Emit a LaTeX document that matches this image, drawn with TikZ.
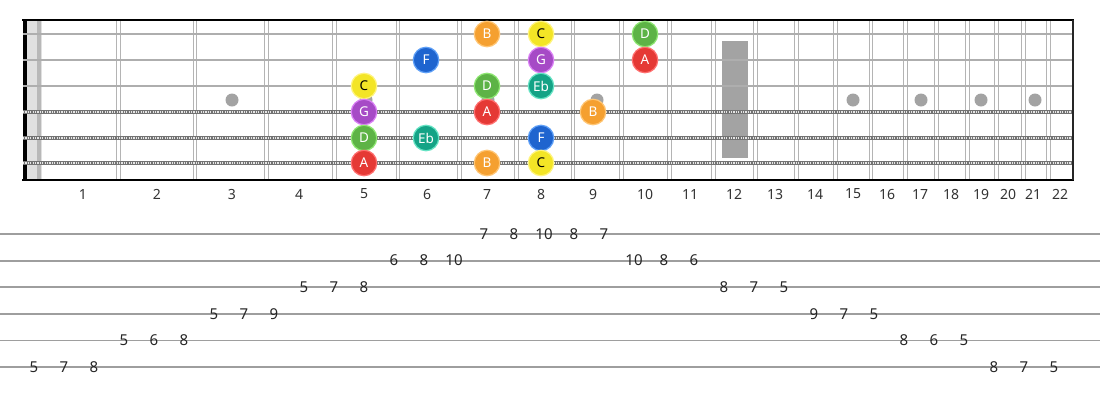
\documentclass[tikz,border=0pt]{standalone}
\usepackage{fontspec}
\setmainfont{Noto Sans}
\definecolor{cB}{HTML}{F5A030}\definecolor{rB}{HTML}{FFC675}
\definecolor{cC}{HTML}{F3E526}\definecolor{rC}{HTML}{FFF480}
\definecolor{cD}{HTML}{5DB346}\definecolor{rD}{HTML}{8EE672}
\definecolor{cA}{HTML}{E53935}\definecolor{rA}{HTML}{FF7070}
\definecolor{cG}{HTML}{A64AC6}\definecolor{rG}{HTML}{DA80F5}
\definecolor{cE}{HTML}{14A386}\definecolor{rE}{HTML}{66E3C4}
\definecolor{cF}{HTML}{1E64CF}\definecolor{rF}{HTML}{5FA0F7}
\definecolor{fretc}{HTML}{B4B4B4}
\definecolor{strc}{HTML}{AEAEAE}
\definecolor{markc}{HTML}{A3A3A3}
\definecolor{tabline}{HTML}{9E9E9E}
\begin{document}
\begin{tikzpicture}[x=1pt,y=-1pt,
  fretline/.style={draw=fretc,line width=1.1pt},
  plainstr/.style={draw=strc,line width=2.8pt},
  woundstr/.style={draw=black!55,line width=3.8pt},
  woundtex/.style={draw=white!80!gray,line width=1.8pt,dash pattern=on 1.2pt off 1.2pt},
  note/.style={circle,minimum size=25.5pt,inner sep=0pt,line width=1.2pt,text=white,font=\fontsize{13.5}{14}\selectfont},
  fretnum/.style={text=black!80,font=\fontsize{14}{15}\selectfont,inner sep=0pt},
  tabnum/.style={text=black!85,font=\fontsize{15}{16}\selectfont,inner sep=0pt}]
\useasboundingbox (0,0) rectangle (1100,400);
\fill[white] (0,0) rectangle (1100,400);
% nut area
\fill[black!12] (27,20) rectangle (42,180);
\fill[black!28] (37,20) rectangle (41,180);
\fill[black] (23,20) rectangle (27,180);
% frets
\foreach \f in {118.5,195,266.5,334.5,398,459.5,516.5,573,621.5,669.5,713.5,755.5,796.5,835.5,871,905.5,936.5,967.5,996.5,1023.5,1048.5}{
  \draw[fretline] (\f-1.6,20) -- (\f-1.6,180);
  \draw[fretline] (\f+1.6,20) -- (\f+1.6,180);
}
% markers
\foreach \m in {232,366,488,597,853,921,981,1035}{\fill[markc] (\m,100) circle (6.5);}
\fill[markc] (722,41) rectangle (748,158);
% strings
\foreach \s in {34,60,86}{\draw[plainstr] (23,\s) -- (1073,\s);}
\foreach \s in {112,138,163}{\draw[woundstr] (23,\s) -- (1073,\s);\draw[woundtex] (23,\s) -- (1073,\s);}
% borders
\draw[black,line width=2pt] (22,20) -- (1074,20);
\draw[black,line width=2pt] (22,180) -- (1074,180);
\draw[black!85,line width=2pt] (1073,20) -- (1073,180);
% notes
\node[note,fill=cB,draw=rB] (s1a) at (487,34) {B};
\node[note,fill=cC,draw=rC,text=black] (s1b) at (541,34) {C};
\node[note,fill=cD,draw=rD] (s1c) at (645,34) {D};
\node[note,fill=cF,draw=rF] (s2a) at (426,60) {F};
\node[note,fill=cG,draw=rG] (s2b) at (541,60) {G};
\node[note,fill=cA,draw=rA] (s2c) at (645,60) {A};
\node[note,fill=cC,draw=rC,text=black] (s3a) at (364,86) {C};
\node[note,fill=cD,draw=rD] (s3b) at (487,86) {D};
\node[note,fill=cE,draw=rE] (s3c) at (541,86) {Eb};
\node[note,fill=cG,draw=rG] (s4a) at (364,112) {G};
\node[note,fill=cA,draw=rA] (s4b) at (487,112) {A};
\node[note,fill=cB,draw=rB] (s4c) at (593,112) {B};
\node[note,fill=cD,draw=rD] (s5a) at (364,138) {D};
\node[note,fill=cE,draw=rE] (s5b) at (426,138) {Eb};
\node[note,fill=cF,draw=rF] (s5c) at (541,138) {F};
\node[note,fill=cA,draw=rA] (s6a) at (364,163) {A};
\node[note,fill=cB,draw=rB] (s6b) at (487,163) {B};
\node[note,fill=cC,draw=rC,text=black] (s6c) at (541,163) {C};
% fret numbers
\foreach \x [count=\n] in {83,157,232,299,364,427,487,541,593,645,690,734,775,815,853,887,920,951,981,1008,1033,1060}{
  \node[fretnum] (f\n) at (\x,194) {\n};
}
% tab lines
\foreach \k in {0,...,5}{\draw[tabline,line width=1.8pt] (0,{234+26.6*\k}) -- (1100,{234+26.6*\k});}
% tab numbers
\foreach \v/\s [count=\i from 0] in {5/6,7/6,8/6,5/5,6/5,8/5,5/4,7/4,9/4,5/3,7/3,8/3,6/2,8/2,10/2,7/1,8/1,10/1,8/1,7/1,10/2,8/2,6/2,8/3,7/3,5/3,9/4,7/4,5/4,8/5,6/5,5/5,8/6,7/6,5/6}{
  \node[tabnum] (t\i) at ({34+30*\i},{234+26.6*(\s-1)}) {\v};
}
\end{tikzpicture}
\end{document}
